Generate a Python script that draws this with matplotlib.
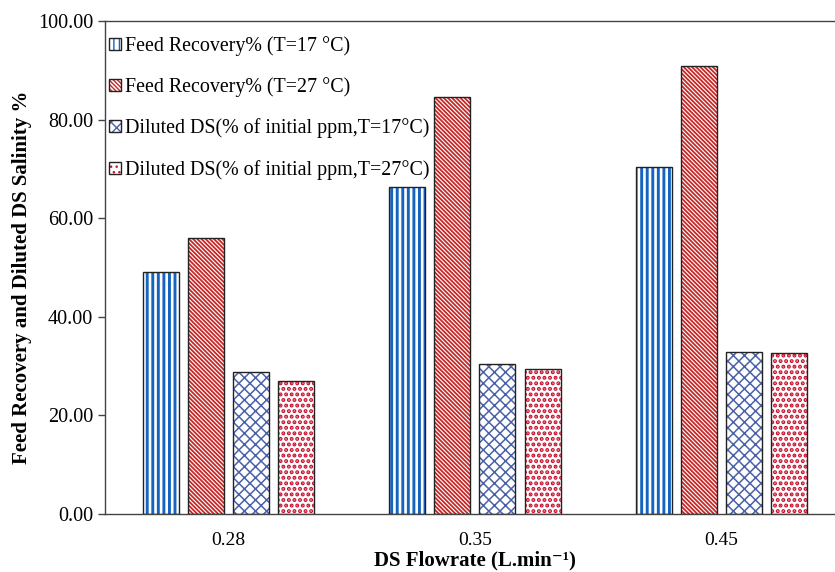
import matplotlib

matplotlib.use("Agg")
import matplotlib.pyplot as plt
import numpy as np

flowrates = ["0.28", "0.35", "0.45"]
series_labels = [
    "Feed Recovery% (T=17 °C)",
    "Feed Recovery% (T=27 °C)",
    "Diluted DS(% of initial ppm,T=17°C)",
    "Diluted DS(% of initial ppm,T=27°C)",
]
recovery_17 = [49.1, 66.3, 70.4]
recovery_27 = [55.9, 84.5, 90.9]
diluted_17 = [28.9, 30.4, 32.9]
diluted_27 = [26.9, 29.4, 32.7]
y_ticks = [0, 20, 40, 60, 80, 100]

SERIES = [recovery_17, recovery_27, diluted_17, diluted_27]
HATCHES = ["|||", "\\\\\\\\\\\\\\\\", "xxx", "..."]
HATCH_COLORS = ["#1565c0", "#c62828", "#4a62a8", "#c8102e"]
HATCH_WIDTHS = [2.1, 1.3, 1.1, 2.0]

plt.rcParams["font.family"] = ["Liberation Serif", "DejaVu Serif"]

fig = plt.figure(figsize=(8.35, 5.72), dpi=100)
ax = fig.add_axes([0.1257, 0.1014, 0.886, 0.8619])

x = np.arange(len(flowrates))
pitch = 0.183
width = 0.146
handles = []
for i, vals in enumerate(SERIES):
    pos = x + (i - 1.5) * pitch
    with plt.rc_context({"hatch.linewidth": HATCH_WIDTHS[i]}):
        # hatch drawn in its colour, outline drawn on top in dark grey
        ax.bar(pos, vals, width, color="white", edgecolor=HATCH_COLORS[i],
               hatch=HATCHES[i], linewidth=0, zorder=2)
        h_fill = plt.Rectangle((0, 0), 1, 1, facecolor="white", edgecolor=HATCH_COLORS[i],
                               hatch=HATCHES[i], linewidth=0)
    ax.bar(pos, vals, width, fill=False, edgecolor="#222222", linewidth=1.0, zorder=3)
    h_edge = plt.Rectangle((0, 0), 1, 1, fill=False, edgecolor="#222222", linewidth=1.0)
    handles.append((h_fill, h_edge))

ax.set_xlim(-0.5, 2.5)
ax.set_ylim(0, 100)
ax.set_xticks(x)
ax.set_xticklabels(flowrates)
ax.set_yticks(y_ticks)
ax.set_yticklabels([f"{v:.2f}" for v in y_ticks])
ax.tick_params(axis="x", length=0, labelsize=14, pad=13)
ax.tick_params(axis="y", direction="out", length=5, width=1, labelsize=14.5, color="#444444")

for side in ["left", "top", "bottom"]:
    ax.spines[side].set_color("#444444")
    ax.spines[side].set_linewidth(1.0)
ax.spines["right"].set_visible(False)

ax.set_ylabel("Feed Recovery and Diluted DS Salinity %", fontsize=15, fontweight="bold")
ax.yaxis.set_label_coords(-0.098, 0.48)
ax.set_xlabel("DS Flowrate (L.min⁻¹)", fontsize=15, fontweight="bold", labelpad=1)

ax.legend(handles, series_labels, loc="upper left", bbox_to_anchor=(0.0, 0.978),
          frameon=False, fontsize=14.4, handlelength=0.6, handleheight=0.55,
          handletextpad=0.2, labelspacing=1.07, borderaxespad=0.1, borderpad=0.1)

fig.savefig("out.png", dpi=100)
